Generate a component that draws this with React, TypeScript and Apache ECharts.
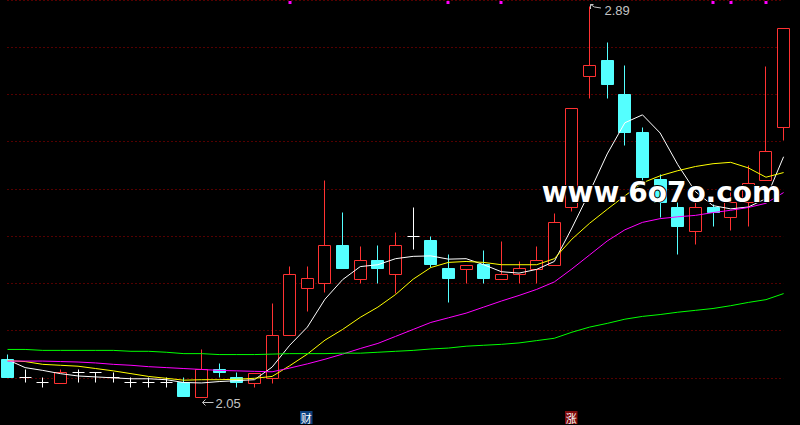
import React, { useEffect, useRef } from "react";
import * as echarts from "echarts";

const categories = Array.from({ length: 45 }, (_, i) => String(i + 1));

const opens = [
  2.132, 2.092, 2.081, 2.079, 2.103, 2.103, 2.092, 2.081, 2.081, 2.081,
  2.081, 2.05, 2.111, 2.092, 2.08, 2.091, 2.183, 2.285, 2.294, 2.377,
  2.304, 2.345, 2.314, 2.396, 2.386, 2.326, 2.325, 2.335, 2.303, 2.314,
  2.325, 2.334, 2.457, 2.74, 2.773, 2.701, 2.62, 2.518, 2.458, 2.406,
  2.458, 2.436, 2.469, 2.517, 2.63,
];
const closes = [
  2.092, 2.092, 2.081, 2.103, 2.103, 2.103, 2.092, 2.081, 2.081, 2.081,
  2.052, 2.111, 2.103, 2.083, 2.102, 2.184, 2.315, 2.305, 2.377, 2.327,
  2.345, 2.327, 2.377, 2.396, 2.335, 2.305, 2.334, 2.305, 2.315, 2.326,
  2.345, 2.425, 2.67, 2.762, 2.723, 2.62, 2.522, 2.469, 2.418, 2.457,
  2.448, 2.469, 2.509, 2.579, 2.843,
];
const lows = [
  2.092, 2.081, 2.071, 2.079, 2.083, 2.082, 2.081, 2.071, 2.071, 2.071,
  2.052, 2.05, 2.093, 2.071, 2.071, 2.08, 2.183, 2.235, 2.276, 2.327,
  2.294, 2.295, 2.273, 2.367, 2.328, 2.254, 2.295, 2.295, 2.303, 2.295,
  2.295, 2.334, 2.449, 2.693, 2.693, 2.591, 2.513, 2.437, 2.357, 2.378,
  2.418, 2.408, 2.418, 2.517, 2.601,
];
const highs = [
  2.143, 2.111, 2.092, 2.109, 2.111, 2.103, 2.103, 2.092, 2.092, 2.092,
  2.092, 2.152, 2.122, 2.103, 2.102, 2.252, 2.332, 2.332, 2.515, 2.447,
  2.375, 2.377, 2.405, 2.458, 2.396, 2.356, 2.334, 2.366, 2.384, 2.342,
  2.375, 2.445, 2.67, 2.89, 2.813, 2.762, 2.63, 2.528, 2.469, 2.475,
  2.464, 2.491, 2.548, 2.76, 2.843,
];

const ma5 = [
  2.131, 2.114, 2.108, 2.101, 2.096, 2.094, 2.092, 2.09, 2.09, 2.088,
  2.082, 2.081, 2.084, 2.086, 2.088, 2.115, 2.162, 2.201, 2.261, 2.303,
  2.331, 2.335, 2.348, 2.353, 2.354, 2.347, 2.348, 2.335, 2.32, 2.317,
  2.325, 2.342, 2.414, 2.491, 2.573, 2.64, 2.657, 2.618, 2.55, 2.492,
  2.462, 2.455, 2.459, 2.477, 2.567,
];
const ma10 = [
  2.129, 2.127, 2.121, 2.119, 2.117, 2.112, 2.107, 2.101, 2.095, 2.091,
  2.087, 2.088, 2.088, 2.089, 2.091, 2.095, 2.118, 2.143, 2.173, 2.196,
  2.222, 2.244, 2.271, 2.304, 2.329, 2.34, 2.342, 2.34, 2.335, 2.335,
  2.335, 2.348, 2.39, 2.424, 2.454, 2.483, 2.511, 2.526, 2.537, 2.546,
  2.552, 2.555, 2.543, 2.523, 2.533,
];
const ma20 = [
  2.128, 2.128, 2.128, 2.127, 2.126, 2.124, 2.121, 2.119, 2.116, 2.114,
  2.112, 2.11, 2.108, 2.107, 2.106, 2.105, 2.113, 2.122, 2.132, 2.143,
  2.155, 2.166, 2.181, 2.196, 2.211, 2.221, 2.231, 2.244, 2.257, 2.269,
  2.282, 2.298, 2.326, 2.356, 2.386, 2.41, 2.426, 2.434, 2.438, 2.441,
  2.447, 2.452, 2.458, 2.467, 2.49,
];
const ma60 = [
  2.153, 2.153, 2.151, 2.151, 2.151, 2.151, 2.151, 2.149, 2.149, 2.147,
  2.144, 2.144, 2.142, 2.142, 2.142, 2.143, 2.144, 2.144, 2.144, 2.145,
  2.145, 2.147, 2.149, 2.151, 2.154, 2.156, 2.16, 2.162, 2.164, 2.167,
  2.172, 2.177, 2.19, 2.201, 2.209, 2.218, 2.224, 2.228, 2.233, 2.237,
  2.241, 2.247, 2.254, 2.26, 2.273,
];

const signalDots = [16, 25, 28, 40, 41, 43];
const eventMarks = [
  { index: 17, text: "财", color: "#0d3f7c" },
  { index: 32, text: "涨", color: "#7e0b0b" },
];
const highMark = { index: 33, value: 2.89, label: "2.89" };
const lowMark = { index: 11, value: 2.05, label: "2.05" };
const watermark = "www.6o7o.com";

const priceMin = 1.9907;
const priceMax = 2.9037;

const RED = "#ff3232";
const CYAN = "#54ffff";
const DOJI = "#ffffff";
const LABEL_GRAY = "#c4c4c4";

const snap = (v: number) => Math.round(v - 0.5) + 0.5;

export default function App() {
  const ref = useRef<HTMLDivElement>(null);

  useEffect(() => {
    if (!ref.current) return;
    const chart = echarts.init(ref.current, undefined, { renderer: "svg" });
    const candles = categories.map((_, i) => [i, opens[i], closes[i], lows[i], highs[i]]);

    const seg = (x1: number, y1: number, x2: number, y2: number, color: string) => ({
      type: "polyline",
      shape: { points: [[x1, y1], [x2, y2]] },
      style: { stroke: color, lineWidth: 1, fill: null },
    });

    const renderCandle = (params: any, api: any) => {
      const i = api.value(0);
      const o = api.value(1);
      const c = api.value(2);
      const l = api.value(3);
      const h = api.value(4);
      const [x, yo] = api.coord([i, o]);
      const yc = api.coord([i, c])[1];
      const yl = api.coord([i, l])[1];
      const yh = api.coord([i, h])[1];
      const cx = snap(x);
      const half = 6;
      const top = snap(Math.min(yo, yc));
      let bot = snap(Math.max(yo, yc));
      if (bot - top < 1 && o !== c) bot = top + 1;
      const yHigh = snap(yh);
      const yLow = snap(yl);
      const children: any[] = [];
      if (o === c) {
        children.push(seg(cx - half, top, cx + half, top, DOJI));
        if (yLow > yHigh) children.push(seg(cx, yHigh, cx, yLow, DOJI));
      } else {
        const up = c > o;
        const color = up ? RED : CYAN;
        if (yHigh < top) children.push(seg(cx, yHigh, cx, top, color));
        if (yLow > bot) children.push(seg(cx, bot, cx, yLow, color));
        children.push({
          type: "rect",
          shape: { x: cx - half, y: top, width: half * 2, height: bot - top },
          style: { fill: up ? "#000000" : CYAN, stroke: null, lineWidth: 0 },
        });
        children.push({
          type: "polyline",
          shape: {
            points: [
              [cx - half, top],
              [cx + half, top],
              [cx + half, bot],
              [cx - half, bot],
              [cx - half, top],
            ],
          },
          style: { stroke: color, lineWidth: 1, fill: null },
        });
      }
      return { type: "group", children };
    };

    const maLine = (data: number[], color: string, z: number) => ({
      type: "line",
      data,
      symbol: "none",
      showSymbol: false,
      silent: true,
      z,
      lineStyle: { color, width: 1 },
    });

    chart.setOption({
      animation: false,
      backgroundColor: "#000",
      grid: { left: 7.5, right: 16.4, top: -0.4, bottom: -3.6, containLabel: false },
      xAxis: {
        type: "category",
        data: categories,
        boundaryGap: false,
        show: false,
      },
      yAxis: [
        {
          type: "value",
          min: priceMin,
          max: priceMax,
          show: false,
          scale: true,
        },
        {
          type: "value",
          min: 0,
          max: 9,
          interval: 1,
          position: "right",
          axisLine: { show: false },
          axisTick: { show: false },
          axisLabel: { show: false },
          splitLine: {
            show: true,
            lineStyle: { color: "#a80000", width: 1, type: [1, 3] },
          },
        },
      ],
      series: [
        {
          type: "custom",
          data: candles,
          encode: { x: 0, y: [1, 2, 3, 4] },
          renderItem: renderCandle,
          z: 2,
          silent: true,
        },
        maLine(ma5, "#ffffff", 3),
        maLine(ma10, "#ffff00", 3),
        maLine(ma20, "#ff00ff", 3),
        maLine(ma60, "#00ff00", 3),
      ],
    });

    const px = (idx: number, v: number) =>
      chart.convertToPixel({ xAxisIndex: 0, yAxisIndex: 0 }, [idx, v]) as number[];

    const graphics: any[] = [];
    signalDots.forEach((idx) => {
      const [x] = px(idx, priceMax);
      graphics.push({
        type: "rect",
        shape: { x: Math.round(x) - 1.5, y: 1, width: 3, height: 3 },
        style: { fill: "#ff00ff" },
        z: 50,
      });
    });
    eventMarks.forEach((m) => {
      const [x] = px(m.index, priceMin);
      graphics.push({
        type: "rect",
        shape: { x: Math.round(x) - 7, y: 411, width: 12.5, height: 13 },
        style: { fill: m.color },
        z: 50,
      });
      graphics.push({
        type: "text",
        x: Math.round(x) - 0.8,
        y: 417.8,
        style: {
          text: m.text,
          font: '11px "Noto Sans CJK SC"',
          fill: "#ffffff",
          align: "center",
          verticalAlign: "middle",
        },
        z: 51,
      });
    });
    {
      const [x0, y0] = px(highMark.index, highMark.value);
      const x = snap(x0);
      const y = snap(y0);
      graphics.push({
        type: "polyline",
        shape: { points: [[x + 1, y - 2], [x + 5, y + 0.5], [x + 11.5, y + 1.5]] },
        style: { stroke: LABEL_GRAY, lineWidth: 1, fill: null },
        z: 50,
      });
      graphics.push({
        type: "polyline",
        shape: { points: [[x + 1, y + 2.5], [x + 1, y - 2], [x + 4, y - 2]] },
        style: { stroke: LABEL_GRAY, lineWidth: 1, fill: null },
        z: 50,
      });
      graphics.push({
        type: "text",
        x: x + 15,
        y: y + 3.5,
        style: {
          text: highMark.label,
          font: '13px "Liberation Sans"',
          fill: LABEL_GRAY,
          align: "left",
          verticalAlign: "middle",
        },
        z: 50,
      });
    }
    {
      const [x0, y0] = px(lowMark.index, lowMark.value);
      const x = snap(x0);
      const y = snap(y0);
      graphics.push({
        type: "polyline",
        shape: { points: [[x + 1, y + 5], [x + 12, y + 5]] },
        style: { stroke: LABEL_GRAY, lineWidth: 1, fill: null },
        z: 50,
      });
      graphics.push({
        type: "polyline",
        shape: { points: [[x + 4, y + 2], [x + 1, y + 5], [x + 4, y + 8]] },
        style: { stroke: LABEL_GRAY, lineWidth: 1, fill: null },
        z: 50,
      });
      graphics.push({
        type: "text",
        x: x + 14,
        y: y + 5.5,
        style: {
          text: lowMark.label,
          font: '13px "Liberation Sans"',
          fill: LABEL_GRAY,
          align: "left",
          verticalAlign: "middle",
        },
        z: 50,
      });
    }
    graphics.push({
      type: "text",
      x: 661.5,
      y: 192,
      style: {
        text: watermark,
        font: 'bold 28px "DejaVu Sans"',
        fill: "#ffffff",
        stroke: "#000000",
        lineWidth: 2,
        align: "center",
        verticalAlign: "middle",
      },
      z: 100,
    });

    chart.setOption({ graphic: graphics });

    return () => chart.dispose();
  }, []);

  return (
    <div
      ref={ref}
      style={{ position: "fixed", left: 0, top: 0, width: 800, height: 425, background: "#000" }}
    />
  );
}
